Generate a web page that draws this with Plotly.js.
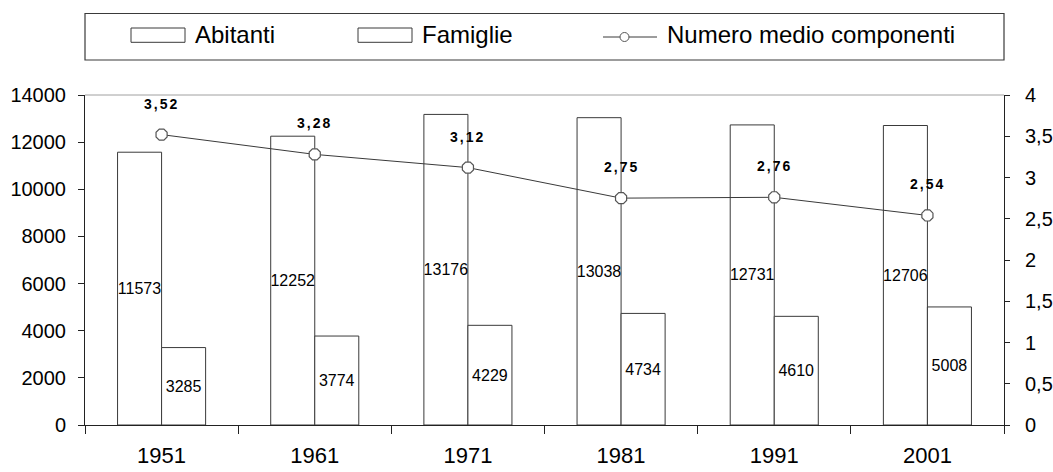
<!DOCTYPE html>
<html>
<head>
<meta charset="utf-8">
<script src="https://cdn.plot.ly/plotly-3.0.1.min.js"></script>
<style>
  html, body { margin: 0; padding: 0; background: #fff; }
  #chart { width: 1053px; height: 472px; }
</style>
</head>
<body>
<div id="chart"></div>
<script>
// Censimenti: abitanti, famiglie e numero medio di componenti per famiglia
const anni = ['1951', '1961', '1971', '1981', '1991', '2001'];
const abitanti = [11573, 12252, 13176, 13038, 12731, 12706];
const famiglie = [3285, 3774, 4229, 4734, 4610, 5008];
const componenti = [3.52, 3.28, 3.12, 2.75, 2.76, 2.54];
const nomiSerie = ['Abitanti', 'Famiglie', 'Numero medio componenti'];

const FONT = '"Liberation Sans", Arial, sans-serif';
const W = 1053, H = 472;
const M = { l: 85, r: 49, t: 95, b: 47 };
const plotW = W - M.l - M.r, plotH = H - M.t - M.b;
// pixel -> paper coordinates (for the framed key above the plot)
const px = x => (x - M.l) / plotW;
const py = y => (H - M.b - y) / plotH;

const fmtIt = v => v.toFixed(2).replace('.', ',');

const barStyle = {
  type: 'bar',
  x: anni,
  marker: { color: '#ffffff', line: { color: '#3a3a3a', width: 1 } },
  textposition: 'inside',
  insidetextanchor: 'middle',
  textangle: 0,
  constraintext: 'none',
  insidetextfont: { family: FONT, size: 16, color: '#000' },
  hoverinfo: 'skip',
  showlegend: false
};

const traces = [
  Object.assign({}, barStyle, { name: nomiSerie[0], y: abitanti, text: abitanti.map(String) }),
  Object.assign({}, barStyle, { name: nomiSerie[1], y: famiglie, text: famiglie.map(String) }),
  {
    type: 'scatter', mode: 'lines+markers', name: nomiSerie[2],
    x: anni, y: componenti, yaxis: 'y2',
    line: { color: '#3a3a3a', width: 1 },
    marker: { symbol: 'octagon', size: 12, color: '#ffffff', line: { color: '#555', width: 1.2 } },
    hoverinfo: 'skip', showlegend: false
  }
];

// value labels above the average-size line (x given as category index)
const annotations = anni.map((a, i) => ({
  x: i, y: componenti[i], xref: 'x', yref: 'y2', yshift: 31,
  text: '<span style="letter-spacing:2px">' + fmtIt(componenti[i]) + '</span>',
  showarrow: false,
  font: { family: FONT, size: 14, color: '#000', weight: 'bold' }
}));

// framed key
const keyY = 34.5;
const shapes = [
  { type: 'line', xref: 'paper', yref: 'paper', x0: 0, x1: 1, y0: 1, y1: 1,
    line: { color: '#a0a0a0', width: 1 } },
  { type: 'rect', xref: 'paper', yref: 'paper', x0: px(85), x1: px(1004), y0: py(13.5), y1: py(60),
    line: { color: '#3a3a3a', width: 1.2 }, fillcolor: 'rgba(0,0,0,0)' },
  { type: 'rect', xref: 'paper', yref: 'paper', x0: px(131), x1: px(185), y0: py(28), y1: py(42.3),
    line: { color: '#3a3a3a', width: 1 }, fillcolor: '#fff' },
  { type: 'rect', xref: 'paper', yref: 'paper', x0: px(358), x1: px(412), y0: py(28), y1: py(42.3),
    line: { color: '#3a3a3a', width: 1 }, fillcolor: '#fff' },
  { type: 'line', xref: 'paper', yref: 'paper', x0: px(603), x1: px(657), y0: py(37), y1: py(37),
    line: { color: '#3a3a3a', width: 1 } },
  { type: 'circle', xref: 'paper', yref: 'paper', x0: px(620), x1: px(629), y0: py(32.5), y1: py(41.5),
    line: { color: '#555', width: 1 }, fillcolor: '#fff' }
];
const keyText = [[193, nomiSerie[0]], [420, nomiSerie[1]], [665, nomiSerie[2]]];
keyText.forEach(([x, t]) => annotations.push({
  xref: 'paper', yref: 'paper', x: px(x), y: py(keyY), xanchor: 'left', yanchor: 'middle',
  text: t, showarrow: false, font: { family: FONT, size: 24, color: '#000' }
}));

const layout = {
  width: W, height: H,
  margin: M,
  paper_bgcolor: '#fff', plot_bgcolor: '#fff',
  separators: ',.',
  font: { family: FONT, color: '#000' },
  barmode: 'group', bargap: 0.425, bargroupgap: 0,
  showlegend: false,
  xaxis: {
    type: 'category', range: [-0.5, anni.length - 0.5], autorange: false,
    tickson: 'boundaries', ticks: 'outside', ticklen: 8,
    tickcolor: '#222', showline: true, linecolor: '#222', linewidth: 1,
    showgrid: false, zeroline: false, ticklabelstandoff: 11, tickangle: 0,
    tickfont: { family: FONT, size: 22, color: '#000' }
  },
  yaxis: {
    range: [0, 14000], dtick: 2000, tickformat: 'd',
    ticks: 'outside', ticklen: 6, tickcolor: '#222',
    showline: true, linecolor: '#222', linewidth: 1,
    showgrid: false, zeroline: false, ticklabelstandoff: 8,
    tickfont: { family: FONT, size: 20, color: '#000' }
  },
  yaxis2: {
    overlaying: 'y', side: 'right', range: [0, 4], dtick: 0.5,
    ticks: 'outside', ticklen: 5, tickcolor: '#222',
    showline: true, linecolor: '#222', linewidth: 1,
    showgrid: false, zeroline: false, ticklabelstandoff: 11,
    tickfont: { family: FONT, size: 20, color: '#000' }
  },
  shapes: shapes,
  annotations: annotations
};

Plotly.newPlot('chart', traces, layout, { displayModeBar: false, staticPlot: true });
</script>
</body>
</html>
